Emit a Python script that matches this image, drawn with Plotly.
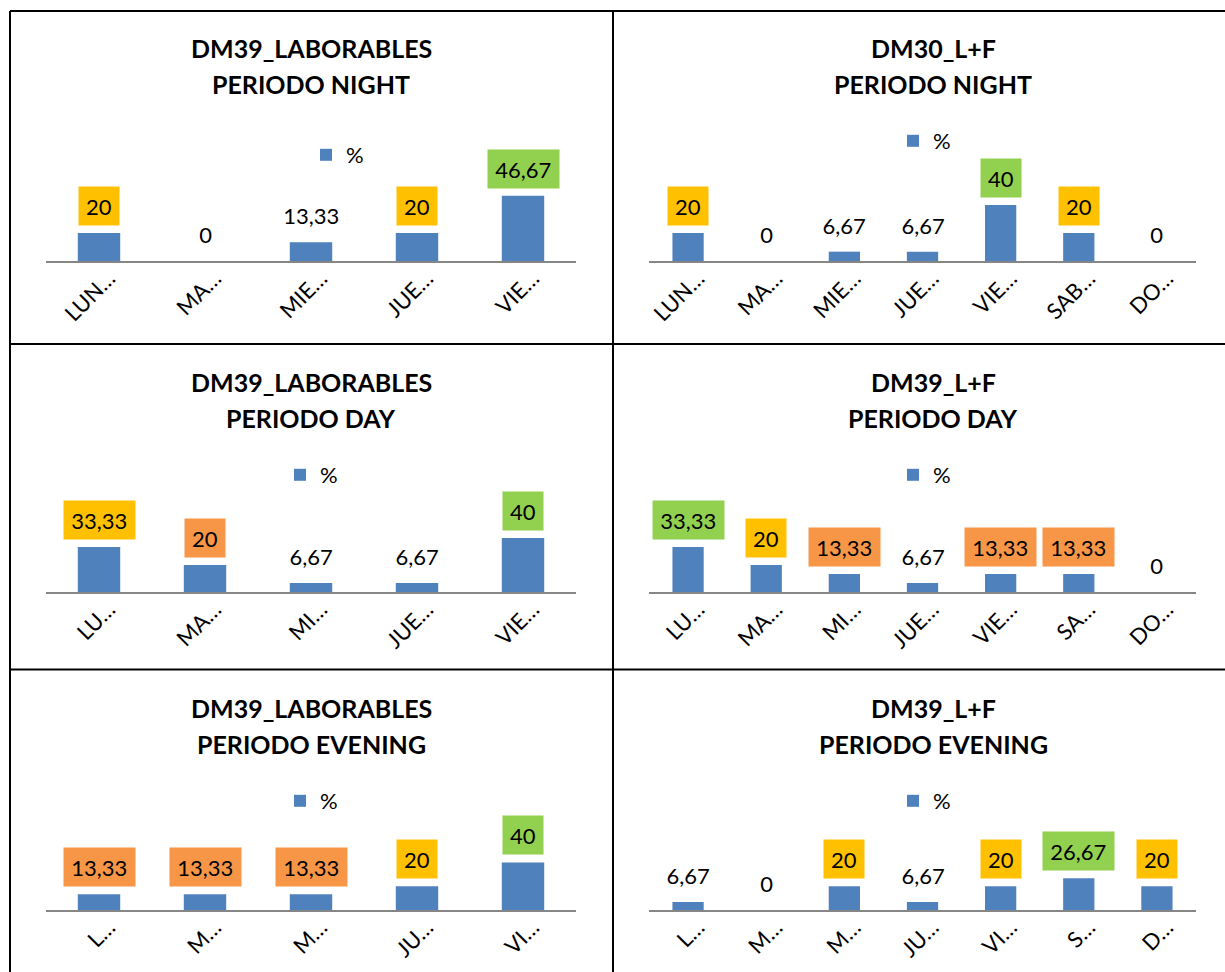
import plotly.graph_objects as go

W, H = 1225, 972

# ---- data -------------------------------------------------------------
days_5 = ["LUNES", "MARTES", "MIERCOLES", "JUEVES", "VIERNES"]
days_7 = ["LUNES", "MARTES", "MIERCOLES", "JUEVES", "VIERNES", "SABADO", "DOMINGO"]

night_lab_values = [20, 0, 13.33, 20, 46.67]
night_lf_values = [20, 0, 6.67, 6.67, 40, 20, 0]
day_lab_values = [33.33, 20, 6.67, 6.67, 40]
day_lf_values = [33.33, 20, 13.33, 6.67, 13.33, 13.33, 0]
evening_lab_values = [13.33, 13.33, 13.33, 20, 40]
evening_lf_values = [6.67, 0, 20, 6.67, 20, 26.67, 20]

night_lab_ticks = ["LUN…", "MA…", "MIE…", "JUE…", "VIE…"]
night_lf_ticks = ["LUN…", "MA…", "MIE…", "JUE…", "VIE…", "SAB…", "DO…"]
day_lab_ticks = ["LU…", "MA…", "MI…", "JUE…", "VIE…"]
day_lf_ticks = ["LU…", "MA…", "MI…", "JUE…", "VIE…", "SA…", "DO…"]
evening_lab_ticks = ["L…", "M…", "M…", "JU…", "VI…"]
evening_lf_ticks = ["L…", "M…", "M…", "JU…", "VI…", "S…", "D…"]

titles = [
    ("DM39_LABORABLES", "PERIODO NIGHT"),
    ("DM30_L+F", "PERIODO NIGHT"),
    ("DM39_LABORABLES", "PERIODO DAY"),
    ("DM39_L+F", "PERIODO DAY"),
    ("DM39_LABORABLES", "PERIODO EVENING"),
    ("DM39_L+F", "PERIODO EVENING"),
]

# ---- styling ----------------------------------------------------------
YEL, GRN, ORG = "#FFC000", "#92D050", "#F79646"
BAR = "#4F81BD"
FONT = "Lato"

night_lab_fill = [YEL, None, None, YEL, GRN]
night_lf_fill = [YEL, None, None, None, GRN, YEL, None]
day_lab_fill = [YEL, ORG, None, None, GRN]
day_lf_fill = [GRN, YEL, ORG, None, ORG, ORG, None]
evening_lab_fill = [ORG, ORG, ORG, YEL, GRN]
evening_lf_fill = [None, None, YEL, None, YEL, GRN, YEL]

panels = [
    (days_5, night_lab_values, night_lab_ticks, night_lab_fill),
    (days_7, night_lf_values, night_lf_ticks, night_lf_fill),
    (days_5, day_lab_values, day_lab_ticks, day_lab_fill),
    (days_7, day_lf_values, day_lf_ticks, day_lf_fill),
    (days_5, evening_lab_values, evening_lab_ticks, evening_lab_fill),
    (days_7, evening_lf_values, evening_lf_ticks, evening_lf_fill),
]

# pixel geometry of each panel: plot x extent, axis baseline, px per unit,
# title line centres, legend symbol centre
col_x = [(46, 576), (649, 1196)]
title_cx = [311, 933]
row_axis = [261, 592, 910]
row_scale = [1.40, 1.35, 1.19]
row_title_y = [(48, 84), (382, 418), (708, 744)]
legend_pos = [(326, 155), (913, 141), (300, 475), (913, 475), (300, 801), (913, 801)]
Y_MAX = 50


def fx(px):
    return px / W


def fy(py):
    return 1 - py / H


def label_text(v):
    return str(int(v)) if float(v).is_integer() else f"{v:.2f}".replace(".", ",")


fig = go.Figure()
annotations = []
layout = {}

for i, (cats, vals, ticks, fills) in enumerate(panels):
    n = i + 1
    col, row = i % 2, i // 2
    sfx = "" if n == 1 else str(n)
    lg = "legend" if n == 1 else f"legend{n}"

    fig.add_trace(go.Bar(
        x=cats, y=vals, name="%", marker=dict(color=BAR, line=dict(width=0)),
        xaxis=f"x{sfx}", yaxis=f"y{sfx}", legend=lg, showlegend=True,
        hoverinfo="x+y",
    ))

    x0, x1 = col_x[col]
    base = row_axis[row]
    top = base - Y_MAX * row_scale[row]
    layout[f"xaxis{sfx}"] = dict(
        domain=[fx(x0), fx(x1)], anchor=f"y{sfx}",
        type="category", tickvals=cats, ticktext=ticks, tickangle=-45,
        tickfont=dict(family=FONT, size=22, color="black"),
        ticklabelshift=10, ticklabelstandoff=-6,
        showline=True, linecolor="#868686", linewidth=2,
        ticks="", showgrid=False, zeroline=False, fixedrange=True,
        automargin=False,
    )
    layout[f"yaxis{sfx}"] = dict(
        domain=[fy(base), fy(top)], anchor=f"x{sfx}", range=[0, Y_MAX],
        visible=False, showgrid=False, zeroline=False, fixedrange=True,
        automargin=False,
    )

    lx, ly = legend_pos[i]
    layout[lg] = dict(
        x=fx(lx - 20), y=fy(ly), xanchor="left", yanchor="middle",
        font=dict(family=FONT, size=22, color="black"),
        bgcolor="rgba(0,0,0,0)", borderwidth=0,
    )

    for c, v, f in zip(cats, vals, fills):
        t = label_text(v)
        annotations.append(dict(
            xref=f"x{sfx}", yref=f"y{sfx}", x=c, y=v, yanchor="bottom",
            yshift=7, text=t, showarrow=False,
            font=dict(family=FONT, size=22, color="black"),
            bgcolor=f if f else "rgba(0,0,0,0)",
            borderpad=4, width=10.3 * len(t) + 11, height=30,
        ))

    for line, cy in zip(titles[i], row_title_y[row]):
        annotations.append(dict(
            xref="paper", yref="paper", x=fx(title_cx[col]), y=fy(cy),
            xanchor="center", yanchor="middle", text=f"<b>{line}</b>",
            showarrow=False, font=dict(family=FONT, size=25, color="black"),
        ))

# panel frame lines
frame = [
    (10, 11, W, 11), (10, 11, 10, H), (613, 11, 613, H),
    (10, 344, W, 344), (10, 669.5, W, 669.5),
]
shapes = [dict(type="line", xref="paper", yref="paper",
               x0=fx(a), y0=fy(b), x1=fx(c), y1=fy(d),
               line=dict(color="black", width=2)) for a, b, c, d in frame]

fig.update_layout(
    width=W, height=H,
    margin=dict(l=0, r=0, t=0, b=0, pad=0, autoexpand=False),
    paper_bgcolor="white", plot_bgcolor="white",
    bargap=0.6, annotations=annotations, shapes=shapes,
    font=dict(family=FONT), **layout,
)

fig.write_html("out.html", config={"displayModeBar": False})
